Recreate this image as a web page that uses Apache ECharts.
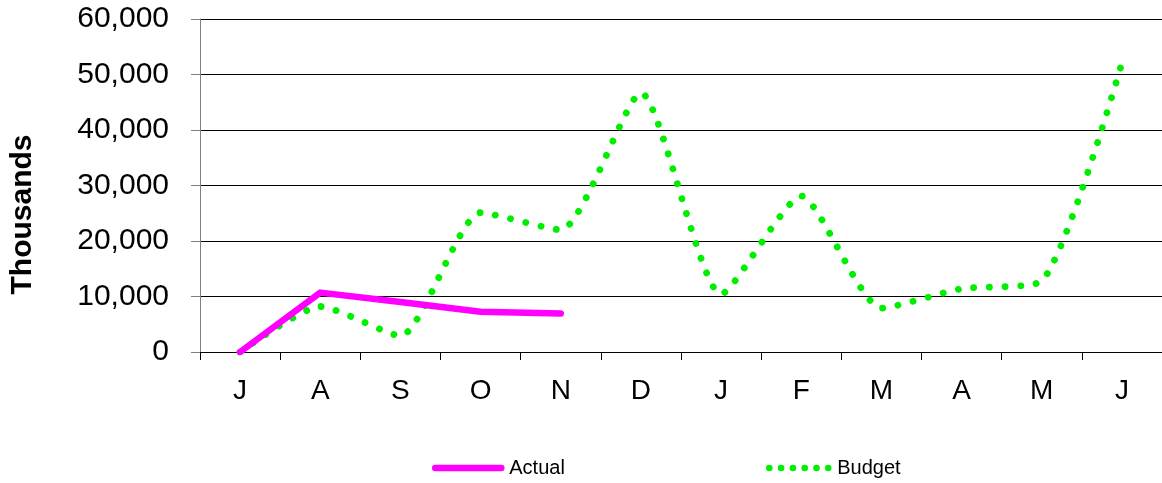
<!DOCTYPE html>
<html>
<head>
<meta charset="utf-8">
<script src="https://cdn.jsdelivr.net/npm/echarts@6/dist/echarts.min.js"></script>
<style>
  html, body { margin: 0; padding: 0; background: #fff; }
  #chart { width: 1162px; height: 483px; }
</style>
</head>
<body>
<div id="chart"></div>
<script>
// Months of the fiscal year (July to June)
const months = ['J', 'A', 'S', 'O', 'N', 'D', 'J', 'F', 'M', 'A', 'M', 'J'];

// Values in thousands
const actual = [0, 10700, 9000, 7250, 6950, null, null, null, null, null, null, null];
const budget = [0, 8200, 2900, 25100, 22000, 46700, 10400, 28100, 7900, 11400, 12800, 52100];

// Y-axis scale
const yMin = 0;
const yMax = 60000;
const yStep = 10000;

const FONT = 'Liberation Sans, Arial, sans-serif';
const PINK = '#ff00ff';
const GREEN = '#00ee00';
const DOTS = [0.1, 15.5];

const chart = echarts.init(document.getElementById('chart'), null, { renderer: 'canvas' });

chart.setOption({
  animation: false,
  backgroundColor: '#fff',
  grid: {
    left: 200, right: 0, top: 19, bottom: 131,
    containLabel: false,
    outerBoundsMode: 'none'
  },
  legend: [
    {
      data: ['Actual'],
      left: 432, top: 458, padding: 0,
      itemWidth: 66, itemHeight: 22, itemGap: 0,
      itemStyle: { opacity: 0 },
      lineStyle: { color: PINK, width: 6.5, cap: 'round' },
      textStyle: { fontFamily: FONT, fontSize: 20, color: '#000', padding: [0, 0, 0, 3] }
    },
    {
      data: ['Budget'],
      left: 766, top: 458, padding: 0,
      itemWidth: 59, itemHeight: 22, itemGap: 0,
      itemStyle: { opacity: 0 },
      lineStyle: { color: GREEN, width: 6.5, type: [0.1, 11.7], cap: 'round' },
      textStyle: { fontFamily: FONT, fontSize: 20, color: '#000', padding: [0, 0, 0, 4] }
    }
  ],
  xAxis: {
    type: 'category',
    data: months,
    boundaryGap: true,
    axisLine: { lineStyle: { color: '#000', width: 1 } },
    axisTick: { show: true, alignWithLabel: false, length: 8, lineStyle: { color: '#000' } },
    axisLabel: { fontFamily: FONT, fontSize: 28, color: '#000', margin: 25 }
  },
  yAxis: {
    type: 'value',
    min: yMin, max: yMax, interval: yStep,
    name: 'Thousands',
    nameLocation: 'middle',
    nameGap: 162,
    nameRotate: 90,
    nameTextStyle: {
      fontFamily: FONT, fontSize: 30, fontWeight: 'bold', color: '#000',
      padding: [0, 58, 0, 0]
    },
    axisLine: { show: true, lineStyle: { color: '#808080', width: 1 } },
    axisTick: { show: true, inside: false, length: 9, lineStyle: { color: '#808080' } },
    axisLabel: {
      fontFamily: FONT, fontSize: 30, color: '#000', margin: 31,
      formatter: v => v.toLocaleString('en-US')
    },
    splitLine: { show: true, lineStyle: { color: '#000', width: 1 } }
  },
  series: [
    {
      name: 'Actual',
      type: 'line',
      data: actual,
      symbol: 'none',
      connectNulls: false,
      color: PINK,
      lineStyle: { color: PINK, width: 6.5, cap: 'round', join: 'round' },
      z: 3
    },
    {
      name: 'Budget',
      type: 'line',
      data: budget,
      symbol: 'none',
      smooth: 0.2,
      color: GREEN,
      lineStyle: { color: GREEN, width: 6.8, type: DOTS, cap: 'round' },
      z: 2
    }
  ]
});
</script>
</body>
</html>
